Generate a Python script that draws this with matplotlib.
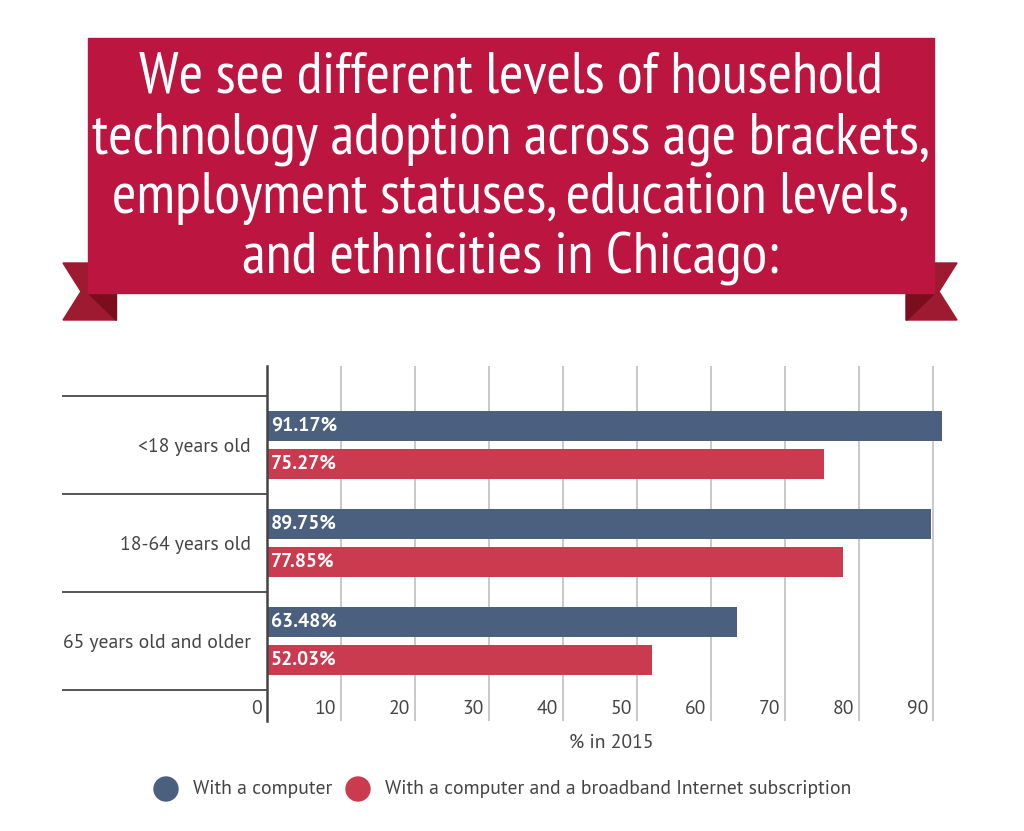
import matplotlib
matplotlib.use('Agg')
import matplotlib.pyplot as plt
from matplotlib import font_manager
from matplotlib.patches import Rectangle, Polygon, Circle

# data
groups = ['<18 years old', '18-64 years old', '65 years old and older']
with_computer = [91.17, 89.75, 63.48]
with_broadband = [75.27, 77.85, 52.03]
series_names = ['With a computer', 'With a computer and a broadband Internet subscription']
x_ticks = [0, 10, 20, 30, 40, 50, 60, 70, 80, 90]
x_label = '% in 2015'
title_lines = ['We see different levels of household',
               'technology adoption across age brackets,',
               'employment statuses, education levels,',
               'and ethnicities in Chicago:']

BLUE = '#4a607e'
RED = '#cb3b50'
BANNER = '#bb1540'
TAIL = '#9e1a30'
FOLD = '#7a0e1c'
TXT = '#444444'

names = {f.name for f in font_manager.fontManager.ttflist}
title_font = 'DejaVu Sans'
for n in ['PT Sans Narrow', 'Liberation Sans Narrow', 'Roboto Condensed', 'Open Sans Condensed']:
    if n in names:
        title_font = n
        break
body = 'PT Sans' if 'PT Sans' in names else 'Lato'
plt.rcParams['font.family'] = [body, 'DejaVu Sans']

W, H = 1024, 831
fig = plt.figure(figsize=(W / 100, H / 100), dpi=100)

# background layer in pixel coords
bg = fig.add_axes([0, 0, 1, 1])
bg.set_xlim(0, W)
bg.set_ylim(H, 0)
bg.axis('off')

# ribbon tails
bg.add_patch(Polygon([(63, 263), (116, 263), (116, 320), (63, 320), (81, 291.5)], color=TAIL, zorder=1))
bg.add_patch(Polygon([(88, 293), (116, 293), (116, 320)], color=FOLD, zorder=2))
bg.add_patch(Polygon([(957, 263), (906, 263), (906, 320), (957, 320), (939, 291.5)], color=TAIL, zorder=1))
bg.add_patch(Polygon([(934, 293), (906, 293), (906, 320)], color=FOLD, zorder=2))
bg.add_patch(Rectangle((88, 38), 934 - 88, 293 - 38, color=BANNER, zorder=3))

title_texts = []
for i, line in enumerate(title_lines):
    t = bg.text(511, 93 + 60 * i, line, ha='center', va='baseline', color='white',
                fontsize=44, family=title_font, zorder=4)
    title_texts.append(t)

# legend
bg.add_patch(Circle((166, 789), 12, color=BLUE))
leg1 = bg.text(193, 789, series_names[0], ha='left', va='center', color=TXT, fontsize=13.7)
bg.add_patch(Circle((358, 789), 12, color=RED))
leg2 = bg.text(385, 789, series_names[1], ha='left', va='center', color=TXT, fontsize=13.7)

fig.canvas.draw()
r = fig.canvas.get_renderer()
widest = max(t.get_window_extent(r).width for t in title_texts)
if widest > 838:
    for t in title_texts:
        t.set_fontsize(44 * 838 / widest)
lw = leg2.get_window_extent(r).width
fs = 13.7 * 466 / lw
leg1.set_fontsize(fs)
leg2.set_fontsize(fs)

# chart
ax = fig.add_axes([267 / W, (H - 721) / H, (970 - 267) / W, 355 / H])
ax.set_xlim(0, 95)
ax.set_ylim(2.816, -0.806)
ax.patch.set_alpha(0)

ypos = list(range(len(groups)))
off = 19 / 98
bh = 30 / 98
ax.barh([y - off for y in ypos], with_computer, height=bh, color=BLUE, zorder=3)
ax.barh([y + off for y in ypos], with_broadband, height=bh, color=RED, zorder=3)

for y, v in zip(ypos, with_computer):
    ax.annotate(f'{v:.2f}%', xy=(0, y - off), xytext=(4, 0), textcoords='offset pixels',
                ha='left', va='center', color='white', fontsize=fs, fontweight='bold', zorder=4)
for y, v in zip(ypos, with_broadband):
    ax.annotate(f'{v:.2f}%', xy=(0, y + off), xytext=(4, 0), textcoords='offset pixels',
                ha='left', va='center', color='white', fontsize=fs, fontweight='bold', zorder=4)

# gridlines
for t in x_ticks[1:]:
    ax.axvline(t, color='#bbbbbb', lw=1.1, zorder=1)
for t in x_ticks:
    ax.annotate(str(t), xy=(t, 12 / 355), xycoords=('data', 'axes fraction'), xytext=(-5, 0),
                textcoords='offset pixels', ha='right', va='center', color=TXT, fontsize=fs)

ax.text(46.5, -22 / 355, x_label, transform=ax.get_xaxis_transform(), ha='center', va='center',
        color=TXT, fontsize=fs)

# category separator lines
tr = ax.get_yaxis_transform()
for b in [-0.5, 0.5, 1.5, 2.5]:
    ax.plot([-204 / 703, 0], [b, b], transform=tr, color='#555555', lw=1.4, clip_on=False, zorder=2)

ax.set_yticks(ypos)
ax.set_yticklabels(groups, color=TXT, fontsize=fs)
ax.tick_params(axis='y', length=0, pad=11.5)
ax.set_xticks([])
for s in ['top', 'right', 'bottom']:
    ax.spines[s].set_visible(False)
ax.spines['left'].set_color('#444444')
ax.spines['left'].set_linewidth(1.8)
ax.spines['left'].set_zorder(5)

fig.savefig('out.png', dpi=100)
